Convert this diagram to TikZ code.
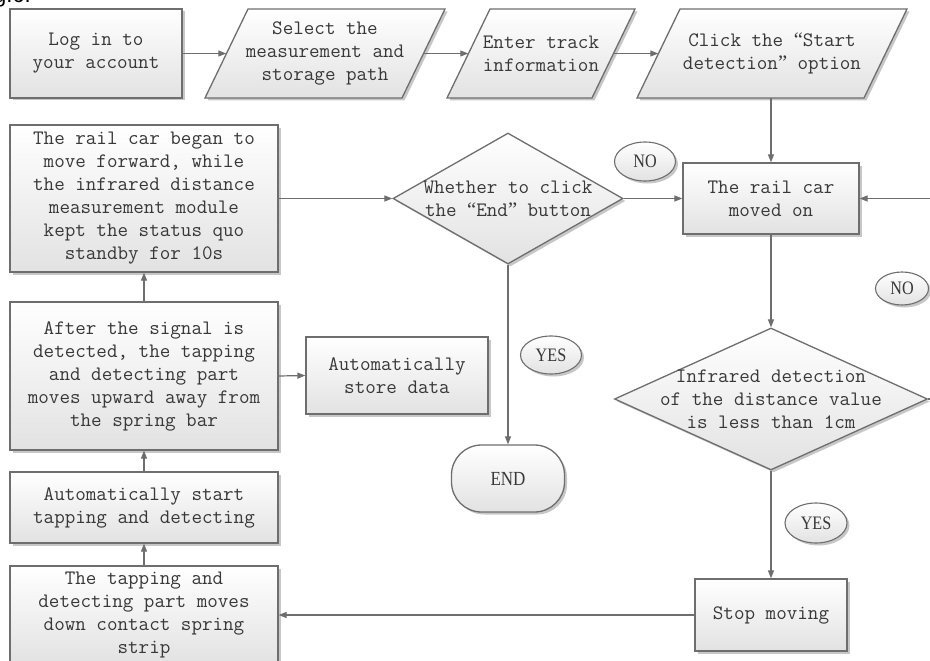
\documentclass[tikz,border=0pt]{standalone}
\usepackage{fontspec}
\usetikzlibrary{arrows.meta,shapes.geometric,shadows}
\newfontfamily\lblfont{Liberation Serif}[FakeStretch=0.85]
\newfontfamily\quotefont{Liberation Serif}
\newfontfamily\capfont{Liberation Sans}
\newcommand\openq{{\quotefont “}}
\newcommand\closeq{{\quotefont ”}}

\definecolor{edge}{HTML}{6E6E6E}
\definecolor{ink}{HTML}{383838}
\definecolor{shadebot}{HTML}{E2E2E2}

\tikzset{
  shade box/.style={top color=white, bottom color=shadebot, draw=edge, line width=1.3pt,
    drop shadow={shadow xshift=2.5pt, shadow yshift=-2.5pt, opacity=0.22, fill=black}},
  body text/.style={text=ink, align=center, font=\ttfamily\fontsize{20.5}{23}\selectfont},
  stepbox/.style={shade box, body text, rectangle, inner sep=0pt},
  iotext/.style={body text, rectangle, inner sep=0pt, minimum height=89pt},
  decision/.style={shade box, diamond, inner sep=0pt},
  inside/.style={label={[body text, inner sep=0pt]center:{#1}}},
  terminal/.style={shade box, rectangle, rounded corners=30pt, inner sep=0pt,
    text=ink, font=\lblfont\fontsize{20}{24}\selectfont},
  tag/.style={shade box, ellipse, inner sep=0pt, line width=1.1pt,
    text=ink, font=\lblfont\fontsize{19}{22}\selectfont},
  flow/.style={draw=edge, line width=1.2pt, -{Triangle[length=8pt,width=6pt]}},
}

% input/output parallelogram: name, centre x, centre y, half width at mid height, text
\newcommand\iobox[5]{%
  \path[shade box] (#2-#4+21.5,#3-44.5) -- (#2+#4+21.5,#3-44.5)
    -- (#2+#4-21.5,#3+44.5) -- (#2-#4-21.5,#3+44.5) -- cycle;
  \node[iotext, minimum width=2*#4] (#1) at (#2,#3) {#5};}

\begin{document}
\begin{tikzpicture}[x=1pt, y=-1pt]
\clip (0,0) rectangle (930,661);
\fill[white] (0,0) rectangle (930,661);

% caption fragment at the top edge
\node[anchor=base east, inner sep=0pt, text=black, font=\capfont\fontsize{22}{24}\selectfont]
  (fig) at (31,3) {Fig.6.};

% top row
\node[stepbox, minimum width=172, minimum height=89] (login) at (96,53.5)
  {Log in to\\your account};
\iobox{path}{325}{53.5}{98.5}{Select the\\measurement and\\storage path}
\iobox{track}{541}{53.5}{72.5}{Enter track\\information}
\iobox{start}{772}{53.5}{113.5}{Click the \openq Start\\detection\closeq\ option}

% right column
\node[stepbox, minimum width=176, minimum height=71] (moved) at (771,198.5)
  {The rail car\\moved on};
\node[decision, minimum width=313, minimum height=142,
  inside={Infrared detection\\of the distance value\\is less than 1cm}] (infra) at (771,399) {};
\node[stepbox, minimum width=152, minimum height=72] (stop) at (771,615)
  {Stop moving};

% middle column
\node[decision, minimum width=230, minimum height=131,
  inside={Whether to click\\the \openq End\closeq\ button}] (endq) at (508,198.5) {};
\node[terminal, minimum width=113, minimum height=67] (fin) at (508,478.5) {END};
\node[stepbox, minimum width=182, minimum height=77] (store) at (397,375.5)
  {Automatically\\store data};

% left column
\node[stepbox, minimum width=268, minimum height=147] (began) at (144,198.5)
  {The rail car began to\\move forward, while\\the infrared distance\\measurement module\\kept the status quo\\standby for 10s};
\node[stepbox, minimum width=268, minimum height=148] (signal) at (144,376)
  {After the signal is\\detected, the tapping\\and detecting part\\moves upward away from\\the spring bar};
\node[stepbox, minimum width=268, minimum height=71] (tapping) at (144,507.5)
  {Automatically start\\tapping and detecting};
\node[stepbox, minimum width=268, minimum height=98] (down) at (144,615)
  {The tapping and\\detecting part moves\\down contact spring\\strip};

% branch labels
\node[tag, minimum width=61, minimum height=39] (no1) at (645,161.5) {NO};
\node[tag, minimum width=53, minimum height=33] (no2) at (902,288.5) {NO};
\node[tag, minimum width=61, minimum height=38] (yes1) at (551,355) {YES};
\node[tag, minimum width=62, minimum height=40] (yes2) at (816,523) {YES};

% connectors
\draw[flow] (login.east) -- (path.west);
\draw[flow] (path.east) -- (track.west);
\draw[flow] (track.east) -- (start.west);
\draw[flow] (start.south -| moved.north) -- (moved.north);
\draw[flow] (moved.south) -- (infra.north);
\draw[flow] (infra.south) -- (stop.north);
\draw[flow] (infra.east) -- ++(40,0) |- (moved.east);
\draw[flow] (stop.west) -- (stop.west -| down.east);
\draw[flow] (down.north) -- (tapping.south);
\draw[flow] (tapping.north) -- (signal.south);
\draw[flow] (signal.north) -- (began.south);
\draw[flow] (signal.east) -- (store.west);
\draw[flow] (began.east) -- (endq.west);
\draw[flow] (endq.east) -- (moved.west);
\draw[flow] (endq.south) -- (fin.north);
\end{tikzpicture}
\end{document}
